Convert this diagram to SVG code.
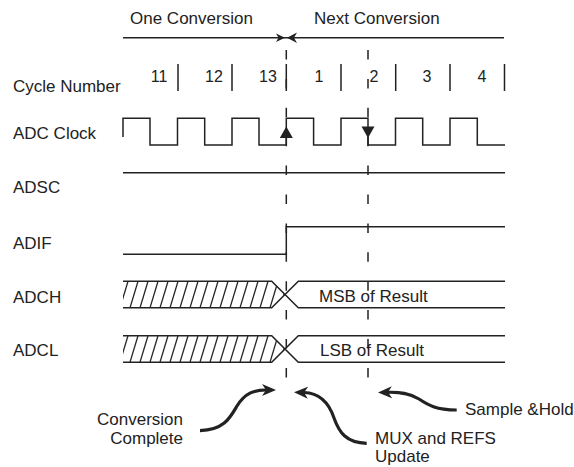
<svg xmlns="http://www.w3.org/2000/svg" width="574" height="467" viewBox="0 0 574 467">
<style>
text{font-family:"Liberation Sans",Arial,sans-serif;font-size:17px;fill:#222}
.num{font-size:16px;text-anchor:middle}
.w{fill:none;stroke:#222;stroke-width:1.5}
.dash{fill:none;stroke:#222;stroke-width:1.5;stroke-dasharray:9.5 19.4}
.curve{fill:none;stroke:#222;stroke-width:3.2}
.hd{fill:#222;stroke:none}
</style>
<defs>
<marker id="barb" markerUnits="userSpaceOnUse" markerWidth="16" markerHeight="14" viewBox="0 0 16 14" refX="4" refY="7" orient="auto">
<path d="M0,1 L14,7 L0,13 L4,7 z" fill="#222"/>
</marker>
<pattern id="hatchH" patternUnits="userSpaceOnUse" x="0" y="281.3" width="10" height="26.5">
<path d="M-10,26.5 L-2,0 M0,26.5 L8,0 M10,26.5 L18,0" stroke="#222" stroke-width="1.3" fill="none"/>
</pattern>
<pattern id="hatchL" patternUnits="userSpaceOnUse" x="0" y="335.7" width="10" height="26.5">
<path d="M-10,26.5 L-2,0 M0,26.5 L8,0 M10,26.5 L18,0" stroke="#222" stroke-width="1.3" fill="none"/>
</pattern>
</defs>

<g id="header">
<text x="130" y="24">One Conversion</text>
<text x="314" y="24">Next Conversion</text>
<line class="w" x1="123" y1="37.7" x2="504" y2="37.7"/>
<path class="hd" d="M285,37.7 L276,33.5 L278.5,37.7 L276,42 z"/>
<path class="hd" d="M287,37.7 L297,32.5 L294,37.7 L297,43 z"/>
</g>

<g id="cycle-number">
<text x="13" y="92">Cycle Number</text>
<text class="num" x="159" y="82">11</text>
<text class="num" x="214" y="82">12</text>
<text class="num" x="268" y="82">13</text>
<text class="num" x="319" y="82">1</text>
<text class="num" x="374" y="82">2</text>
<text class="num" x="427" y="82">3</text>
<text class="num" x="482" y="82">4</text>
<path class="w" d="M178,64 V91 M232,64 V91 M286.3,64 V91 M341,64 V91 M395.7,64 V91 M450,64 V91 M504.5,64 V91"/>
</g>

<g id="adc-clock">
<text x="13" y="139">ADC Clock</text>
<path class="w" d="M123,137 V118.3 H150 V145 H177.5 V118.3 H204.7 V145 H232 V118.3 H259 V145 H286.3 V118.3 H313.6 V145 H341 V118.3 H368 V145 H395.5 V118.3 H422.7 V145 H450 V118.3 H477.3 V145 H505"/>
<path class="hd" d="M286.3,126.5 L279.8,138 L292.8,138 z"/>
<path class="hd" d="M361.5,126.5 L374.5,126.5 L368,138 z"/>
</g>

<g id="adsc">
<text x="13" y="192.5">ADSC</text>
<line class="w" x1="123" y1="172.7" x2="505" y2="172.7"/>
</g>

<g id="adif">
<text x="13" y="249">ADIF</text>
<path class="w" d="M123,254.3 H286.3 V226.7 H505"/>
</g>

<g id="adch">
<text x="13" y="302.7">ADCH</text>
<path fill="url(#hatchH)" d="M123,281.3 H271.7 L285,294.5 L271.7,307.8 H123 z"/>
<path class="w" d="M123,281.3 H271.7 L298.3,307.8 H505 M123,307.8 H271.7 L298.3,281.3 H505"/>
<text x="319" y="301.5">MSB of Result</text>
</g>

<g id="adcl">
<text x="13" y="356">ADCL</text>
<path fill="url(#hatchL)" d="M123,335.7 H271.7 L285,349 L271.7,362.2 H123 z"/>
<path class="w" d="M123,335.7 H271.7 L298.3,362.2 H505 M123,362.2 H271.7 L298.3,335.7 H505"/>
<text x="320" y="355.5">LSB of Result</text>
</g>

<g id="connectors">
<line class="dash" x1="286.3" y1="50" x2="286.3" y2="378"/>
<line class="dash" x1="368" y1="50" x2="368" y2="378"/>
<path class="curve" marker-end="url(#barb)" d="M200,430.7 C224,430 230,418 237,406 C245,393 254,390 266,390"/>
<path class="curve" marker-end="url(#barb)" d="M366.7,443.3 C346,443 339,432 334,418 C329,403 319,393 304,392.5"/>
<path class="curve" marker-end="url(#barb)" d="M456.7,410 C436,410 428,405 419,399 C409,393 400,392 388,392.3"/>
</g>

<g id="annotations">
<text x="183" y="425" text-anchor="end">Conversion</text>
<text x="183" y="443.5" text-anchor="end">Complete</text>
<text x="375" y="443.5">MUX and REFS</text>
<text x="375" y="462">Update</text>
<text x="465" y="415">Sample &amp;Hold</text>
</g>
</svg>
